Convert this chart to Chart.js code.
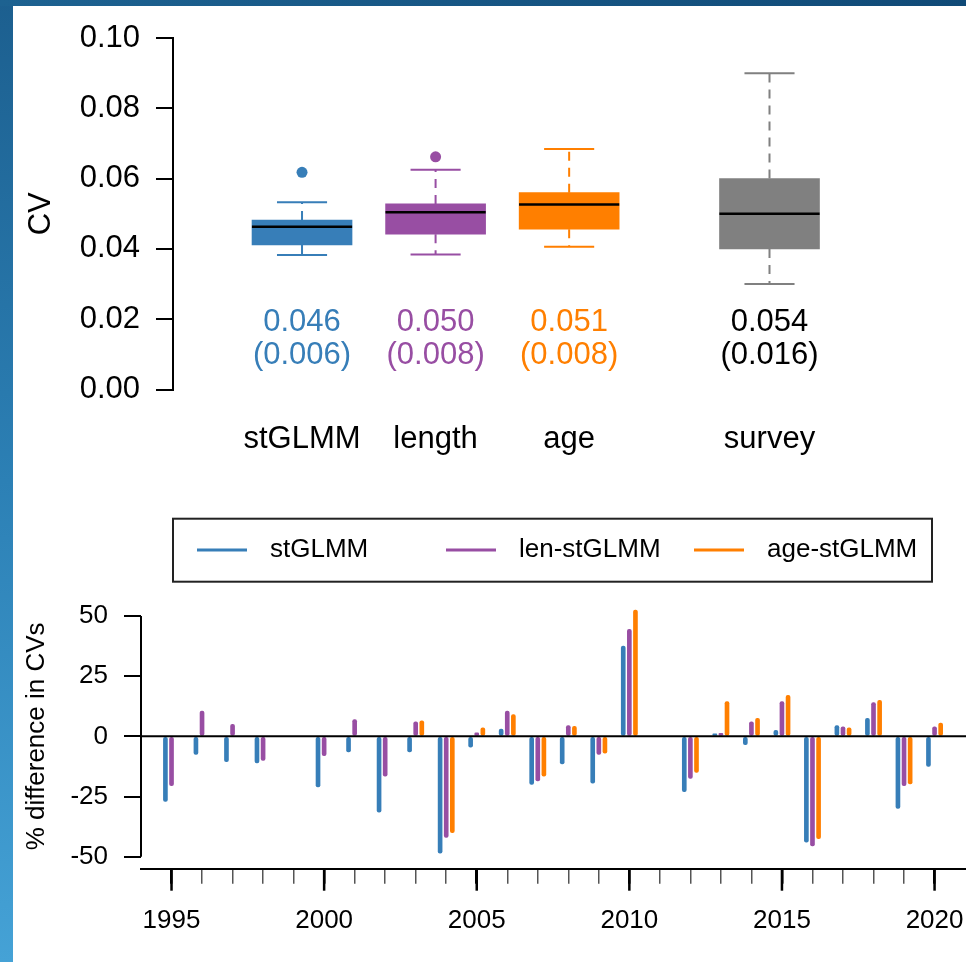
<!DOCTYPE html>
<html>
<head>
<meta charset="utf-8">
<script src="https://cdn.jsdelivr.net/npm/chart.js@4.4.0/dist/chart.umd.min.js"></script>
<style>
  html, body { margin: 0; padding: 0; }
  body {
    width: 966px; height: 962px; overflow: hidden; position: relative;
    background: linear-gradient(180deg, #1c5f8f 0%, #2c80b5 50%, #45a2d6 100%);
  }
  #topbar { position: absolute; left: 0; top: 0; width: 966px; height: 6px; background: linear-gradient(90deg, #1d6291, #104a77); }
  #panel { position: absolute; left: 13px; top: 6px; right: 0; bottom: 0; background: #fff; }
  canvas { position: absolute; left: 0; }
  #cvBox { top: 0; }
  #cvDiff { top: 480px; }
</style>
</head>
<body>
<div id="topbar"></div>
<div id="panel"></div>
<canvas id="cvBox" width="966" height="480"></canvas>
<canvas id="cvDiff" width="966" height="482"></canvas>
<script>
// ---- top panel: CV boxplots ----
const boxCats = ['stGLMM', 'length', 'age', 'survey'];
const boxPos = [1, 2, 3, 4.5];
const whiskerLo = [0.0383, 0.0384, 0.0406, 0.030];
const q1 = [0.0411, 0.0442, 0.0456, 0.040];
const medians = [0.0463, 0.0504, 0.0526, 0.050];
const q3 = [0.0482, 0.0528, 0.0560, 0.060];
const whiskerHi = [0.0533, 0.0625, 0.0684, 0.090];
const outliers = [0.0618, 0.0662, null, null];
const meanText = ['0.046', '0.050', '0.051', '0.054'];
const sdText = ['(0.006)', '(0.008)', '(0.008)', '(0.016)'];
const cvTicks = [0, 0.01, 0.02, 0.03, 0.04, 0.05, 0.06, 0.07, 0.08, 0.09, 0.10];
const cvTickLabels = ['0.00', '', '0.02', '', '0.04', '', '0.06', '', '0.08', '', '0.10'];

// ---- bottom panel: % difference in CVs by year ----
const years = [1995, 1996, 1997, 1998, 1999, 2000, 2001, 2002, 2003, 2004, 2005, 2006, 2007,
               2008, 2009, 2010, 2011, 2012, 2013, 2014, 2015, 2016, 2017, 2018, 2019, 2020];
const stGLMM = [-27, -7.5, -10.5, -11, null, -21, -6.5, -31.5, -6.5, -48.5, -4.5, 3, -20,
                -11.5, -19.5, 37.5, null, -23, 1, -3.5, 2.5, -44, 4.5, 7.5, -30, -12.5];
const lenStGLMM = [-20.5, 10.5, 5, -10, null, -8, 7, -16.5, 6, -42, 1.5, 10.5, -18.5,
                   4.5, -7.5, 44.5, null, -17.5, 1.3, 6, 14.5, -45.5, 4, 14, -20.5, 4];
const ageStGLMM = [null, null, null, null, null, null, null, null, 6.5, -40, 3.5, 9, -16.5,
                   4.2, -7, 52.5, null, -15, 14.5, 7.5, 17, -42.5, 3.5, 15, -19.8, 5.5];
const seriesNames = ['stGLMM', 'len-stGLMM', 'age-stGLMM'];
const diffTicks = [-50, -25, 0, 25, 50];
const yearTicks = years;

const COLORS = ['#377eb8', '#984ea3', '#ff7f00', '#808080'];
const TEXT_COLORS = ['#377eb8', '#984ea3', '#ff7f00', '#000000'];
Chart.defaults.font.family = '"Liberation Sans", Arial, sans-serif';
Chart.defaults.color = '#000';

// no automatic label overflow padding: keep the plot edges where they are set
const noPad = s => { s.paddingLeft = 0; s.paddingRight = 0; s.paddingTop = 0; s.paddingBottom = 0; };

// whiskers, medians and the mean/sd labels, drawn through the chart's scales
const boxExtras = {
  id: 'boxExtras',
  afterDatasetsDraw(chart) {
    const { ctx, scales: { x, y } } = chart;
    ctx.save();
    boxPos.forEach((p, i) => {
      const cx = x.getPixelForValue(p);
      const half = x.getPixelForValue(p + 0.375) - cx;
      ctx.strokeStyle = COLORS[i];
      ctx.lineWidth = 2;
      ctx.setLineDash([9, 7]);
      ctx.beginPath();
      ctx.moveTo(cx, y.getPixelForValue(q3[i]));
      ctx.lineTo(cx, y.getPixelForValue(whiskerHi[i]));
      ctx.moveTo(cx, y.getPixelForValue(q1[i]));
      ctx.lineTo(cx, y.getPixelForValue(whiskerLo[i]));
      ctx.stroke();
      ctx.setLineDash([]);
      ctx.beginPath();
      [whiskerHi[i], whiskerLo[i]].forEach(v => {
        ctx.moveTo(cx - half / 2, y.getPixelForValue(v));
        ctx.lineTo(cx + half / 2, y.getPixelForValue(v));
      });
      ctx.stroke();
      ctx.strokeStyle = '#000';
      ctx.lineWidth = 2.5;
      ctx.beginPath();
      ctx.moveTo(cx - half, y.getPixelForValue(medians[i]));
      ctx.lineTo(cx + half, y.getPixelForValue(medians[i]));
      ctx.stroke();
      ctx.fillStyle = TEXT_COLORS[i];
      ctx.font = '31px "Liberation Sans", Arial, sans-serif';
      ctx.textAlign = 'center';
      ctx.textBaseline = 'middle';
      ctx.fillText(meanText[i], cx, y.getPixelForValue(0.0192));
      ctx.fillText(sdText[i], cx, y.getPixelForValue(0.0098));
    });
    ctx.restore();
  }
};

new Chart(document.getElementById('cvBox'), {
  type: 'bar',
  data: {
    datasets: [
      {
        type: 'scatter',
        data: boxPos.map((p, i) => outliers[i] == null ? null : { x: p, y: outliers[i] }).filter(Boolean),
        pointRadius: 5.5,
        pointBackgroundColor: COLORS.slice(0, 2),
        pointBorderWidth: 0
      },
      {
        type: 'bar',
        data: boxPos.map((p, i) => ({ x: p, y: [q1[i], q3[i]] })),
        backgroundColor: COLORS,
        borderWidth: 0,
        barThickness: 100,
        grouped: false
      }
    ]
  },
  options: {
    responsive: false,
    animation: false,
    layout: { padding: { top: 38, left: 0, right: 0, bottom: 0 } },
    plugins: { legend: { display: false }, tooltip: { enabled: false } },
    scales: {
      x: {
        type: 'linear', min: 0.034, max: 5.93, offset: false,
        afterBuildTicks: s => { s.ticks = boxPos.map(v => ({ value: v })); },
        afterFit: s => { s.height = 90.5; noPad(s); },
        grid: { display: false, offset: false },
        border: { display: false },
        ticks: {
          callback: (v, i) => boxCats[i], font: { size: 31 }, padding: 23,
          autoSkip: false, maxRotation: 0
        }
      },
      y: {
        min: 0, max: 0.1,
        afterBuildTicks: s => { s.ticks = cvTicks.map(v => ({ value: v })); },
        afterFit: s => { s.width = 173; noPad(s); },
        grid: { drawOnChartArea: false, tickLength: 17, color: '#000', lineWidth: 2 },
        border: { color: '#000', width: 2 },
        ticks: { callback: (v, i) => cvTickLabels[i], padding: 16, font: { size: 31 } },
        title: { display: true, text: 'CV', font: { size: 31 }, padding: { top: 23 } }
      }
    }
  },
  plugins: [boxExtras]
});

// zero line, R-style y axis line, long major x ticks, boxed legend
const diffExtras = {
  id: 'diffExtras',
  afterDatasetsDraw(chart) {
    const { ctx, chartArea, scales: { x, y } } = chart;
    ctx.save();
    ctx.strokeStyle = '#000';
    ctx.lineWidth = 2;
    const y0 = y.getPixelForValue(0);
    ctx.beginPath();
    ctx.moveTo(chartArea.left, y0);
    ctx.lineTo(chartArea.right, y0);
    ctx.stroke();
    ctx.beginPath();
    ctx.moveTo(chartArea.left, y.getPixelForValue(diffTicks[0]));
    ctx.lineTo(chartArea.left, y.getPixelForValue(diffTicks[diffTicks.length - 1]));
    ctx.stroke();
    ctx.lineWidth = 2.5;
    yearTicks.forEach(v => {
      if (v % 5 !== 0) return;
      const px = x.getPixelForValue(v);
      ctx.beginPath();
      ctx.moveTo(px, chartArea.bottom);
      ctx.lineTo(px, chartArea.bottom + 22);
      ctx.stroke();
    });

    // legend
    ctx.strokeStyle = '#222';
    ctx.lineWidth = 2;
    ctx.strokeRect(173, 38.7, 932 - 173, 63);
    const starts = [197, 446, 694];
    ctx.font = '26px "Liberation Sans", Arial, sans-serif';
    ctx.textAlign = 'left';
    ctx.textBaseline = 'middle';
    seriesNames.forEach((name, k) => {
      ctx.strokeStyle = COLORS[k];
      ctx.lineWidth = 3;
      ctx.beginPath();
      ctx.moveTo(starts[k], 70);
      ctx.lineTo(starts[k] + 50, 70);
      ctx.stroke();
      ctx.fillStyle = '#000';
      ctx.fillText(name, starts[k] + 73, 70);
    });
    ctx.restore();
  }
};

const seriesVals = [stGLMM, lenStGLMM, ageStGLMM];
const offsets = [-0.2, 0, 0.2];

new Chart(document.getElementById('cvDiff'), {
  type: 'bar',
  data: {
    datasets: seriesNames.map((name, k) => ({
      label: name,
      data: years.map((yr, i) => seriesVals[k][i] == null ? null : { x: yr + offsets[k], y: seriesVals[k][i] }).filter(Boolean),
      backgroundColor: COLORS[k],
      borderWidth: 0,
      borderRadius: 2,
      borderSkipped: false,
      barThickness: 4,
      grouped: false
    }))
  },
  options: {
    responsive: false,
    animation: false,
    layout: { padding: { top: 124, left: 0, right: 0, bottom: 0 } },
    plugins: { legend: { display: false }, tooltip: { enabled: false } },
    scales: {
      x: {
        type: 'linear', min: 1994, max: 2021.03, offset: false,
        afterBuildTicks: s => { s.ticks = yearTicks.map(v => ({ value: v })); },
        afterFit: s => { s.height = 93.3; noPad(s); },
        grid: {
          drawOnChartArea: false, offset: false, tickLength: 15,
          color: c => (c.tick && c.tick.value % 5 === 0) ? '#000' : '#555',
          lineWidth: c => (c.tick && c.tick.value % 5 === 0) ? 2.5 : 1.5
        },
        border: { color: '#000', width: 2 },
        ticks: {
          callback: v => (v % 5 === 0 ? String(v) : ''),
          padding: 22, font: { size: 26 }, autoSkip: false, maxRotation: 0
        }
      },
      y: {
        min: -55, max: 55,
        afterBuildTicks: s => { s.ticks = diffTicks.map(v => ({ value: v })); },
        afterFit: s => { s.width = 141; noPad(s); },
        grid: { drawOnChartArea: false, tickLength: 17, color: '#000', lineWidth: 2 },
        border: { display: false },
        ticks: { padding: 16, font: { size: 26 } },
        title: { display: true, text: '% difference in CVs', font: { size: 26 }, padding: { top: 21 } }
      }
    }
  },
  plugins: [diffExtras]
});
</script>
</body>
</html>
